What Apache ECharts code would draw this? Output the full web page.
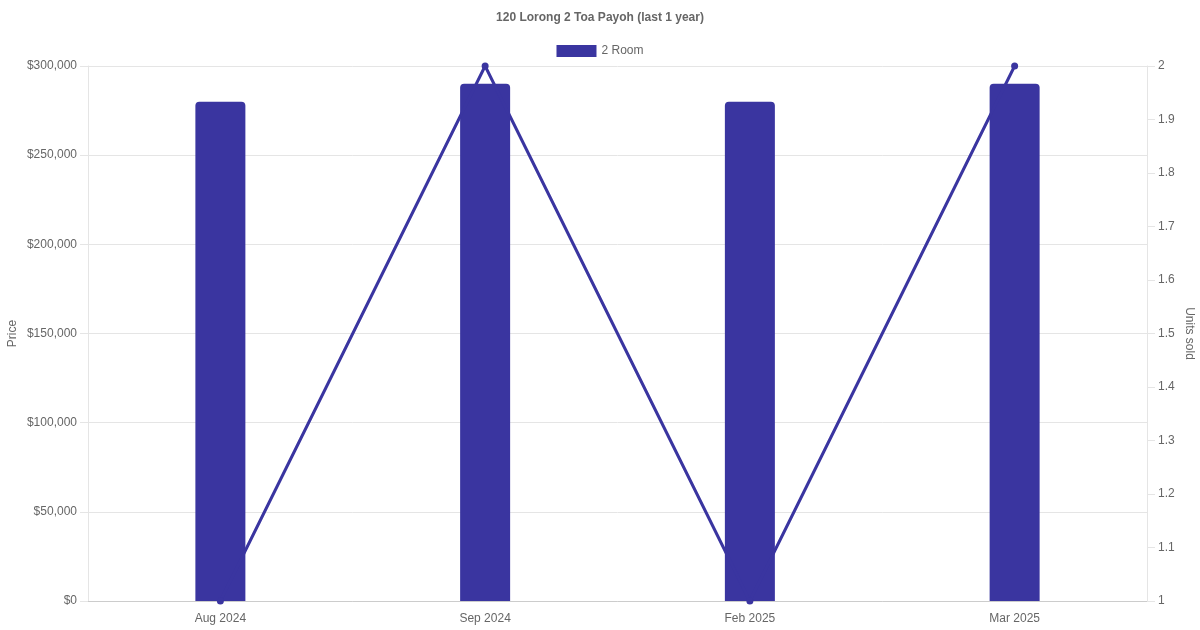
<!DOCTYPE html>
<html>
<head>
<meta charset="utf-8">
<script src="https://cdn.jsdelivr.net/npm/echarts@6/dist/echarts.min.js"></script>
<style>html,body{margin:0;padding:0;background:#fff}#c{width:1200px;height:630px}</style>
</head>
<body>
<div id="c"></div>
<script>
const categories = ['Aug 2024', 'Sep 2024', 'Feb 2025', 'Mar 2025'];
const prices = [280000, 290000, 280000, 290000];
const unitsSold = [1, 2, 1, 2];
const seriesName = '2 Room';
const titleText = '120 Lorong 2 Toa Payoh (last 1 year)';

const chart = echarts.init(document.getElementById('c'), null, {renderer: 'canvas'});
const txt = '#666';
const grid = '#e5e5e5';
const ff = 'Liberation Sans, Arial';
chart.setOption({
  animation: false,
  title: {
    text: titleText, left: 'center', top: 7,
    textStyle: {fontFamily: ff, fontSize: 12, fontWeight: 'bold', color: txt}
  },
  legend: {
    data: [seriesName], top: 40, left: 'center',
    itemWidth: 40, itemHeight: 12, itemGap: 6,
    textStyle: {fontFamily: ff, fontSize: 12, color: txt},
    icon: 'rect'
  },
  grid: {left: 88, right: 53, top: 66, bottom: 29, containLabel: false, outerBoundsMode: 'none'},
  xAxis: {
    type: 'category', data: categories,
    axisLine: {lineStyle: {color: '#ccc'}},
    axisTick: {show: false},
    axisLabel: {fontFamily: ff, fontSize: 12, color: txt, margin: 12},
    splitLine: {show: false}
  },
  yAxis: [{
    type: 'value', min: 0, max: 300000, interval: 50000, position: 'left',
    name: 'Price', nameLocation: 'middle', nameGap: 69, nameRotate: 90, nameMoveOverlap: false,
    nameTextStyle: {fontFamily: ff, fontSize: 12, color: txt},
    axisLine: {show: true, lineStyle: {color: grid}},
    axisTick: {show: true, length: 8, lineStyle: {color: grid}},
    axisLabel: {fontFamily: ff, fontSize: 12, color: txt, margin: 11,
      formatter: v => '$' + v.toLocaleString('en-US')},
    splitLine: {lineStyle: {color: grid}}
  }, {
    type: 'value', min: 1, max: 2, interval: 0.1, position: 'right',
    name: 'Units sold', nameLocation: 'middle', nameGap: 36, nameRotate: -90, nameMoveOverlap: false,
    nameTextStyle: {fontFamily: ff, fontSize: 12, color: txt},
    axisLine: {show: true, lineStyle: {color: grid}},
    axisTick: {show: true, length: 8, lineStyle: {color: grid}},
    axisLabel: {fontFamily: ff, fontSize: 12, color: txt, margin: 11,
      formatter: v => String(Math.round(v * 10) / 10)},
    splitLine: {show: false}
  }],
  series: [{
    name: seriesName, type: 'bar', data: prices, yAxisIndex: 0,
    barWidth: 50,
    itemStyle: {color: '#3a35a0', borderRadius: [4, 4, 0, 0]},
    z: 2
  }, {
    name: 'Units', type: 'line', data: unitsSold, yAxisIndex: 1,
    symbol: 'circle', symbolSize: 7,
    lineStyle: {color: '#3a35a0', width: 3},
    itemStyle: {color: '#3a35a0'},
    z: 3
  }]
});
</script>
</body>
</html>
